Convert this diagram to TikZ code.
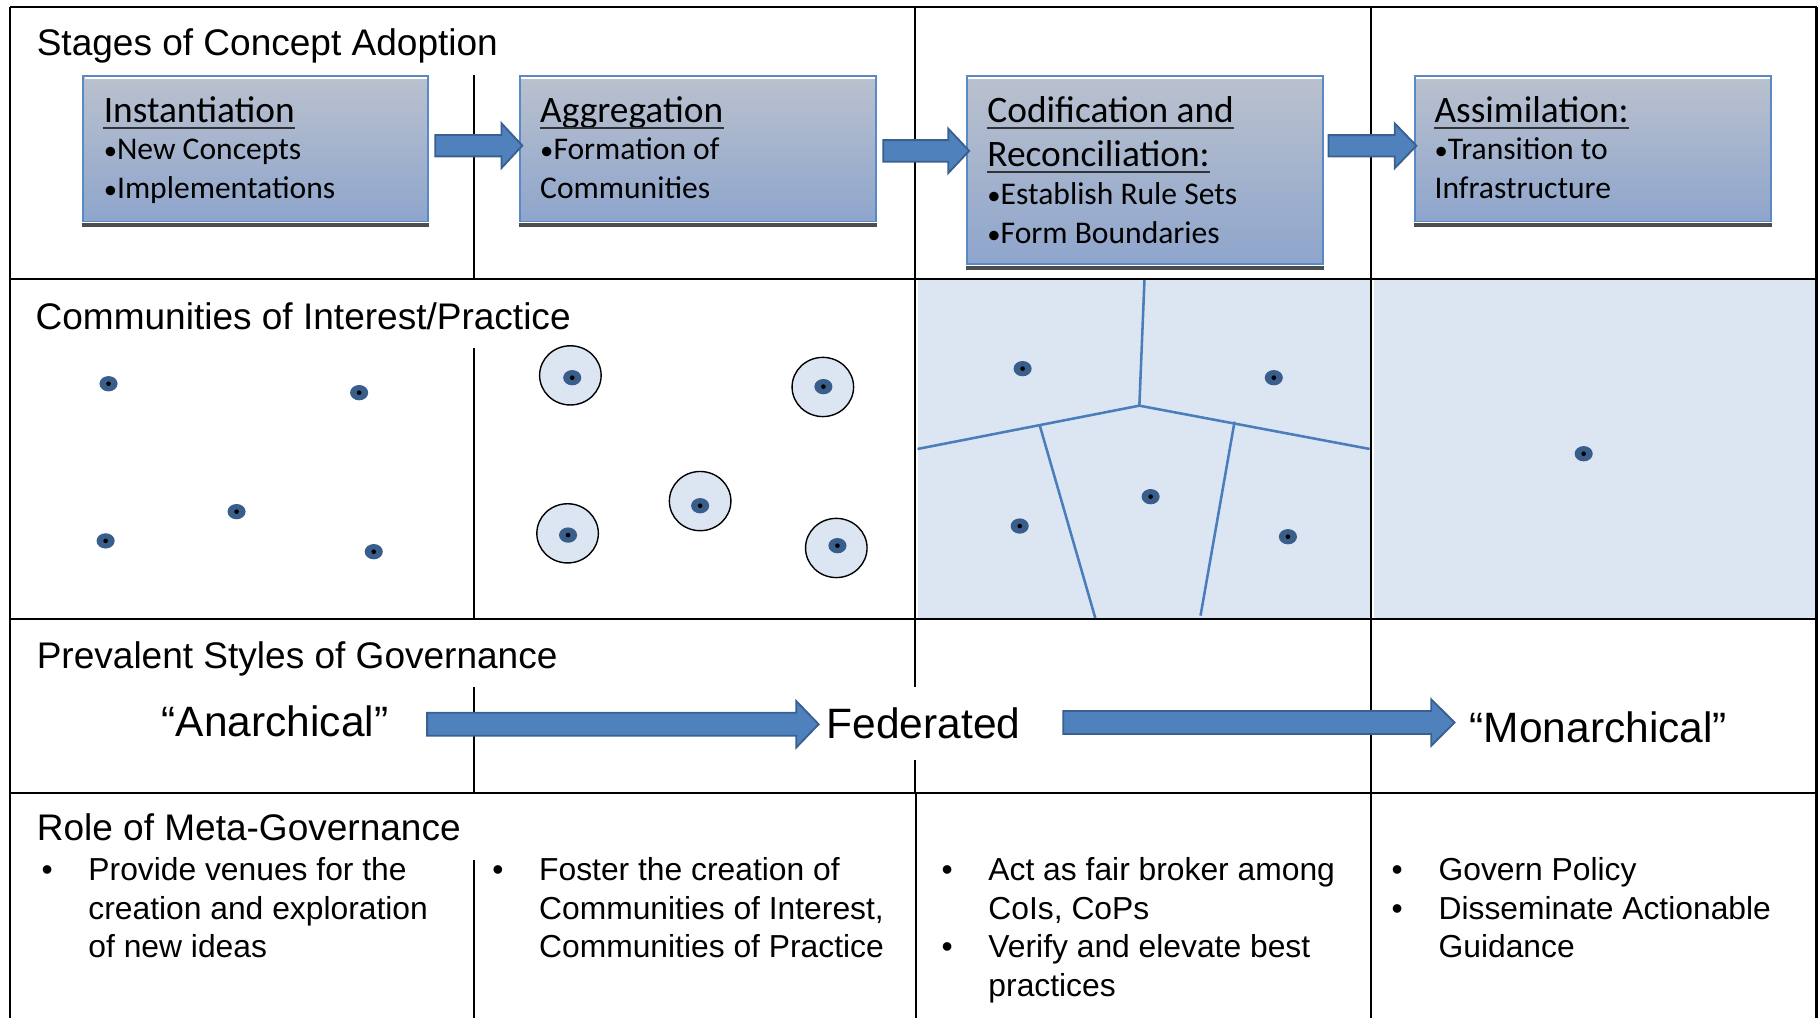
\documentclass[tikz,border=0pt]{standalone}
\usepackage{fontspec}
\setmainfont{Liberation Sans}
\newfontfamily\calfont{Carlito}
\usetikzlibrary{calc}
\definecolor{shadec}{HTML}{DCE6F2}
\definecolor{vorc}{HTML}{4A7EBB}
\definecolor{dotc}{HTML}{3A5E8C}
\definecolor{boxtop}{HTML}{BAC1CE}
\definecolor{boxbot}{HTML}{8EA5CC}
\definecolor{boxborder}{HTML}{5A8AC6}
\definecolor{shadowc}{HTML}{4D4D4D}
\definecolor{arrfill}{HTML}{4F81BD}
\definecolor{arrdraw}{HTML}{3A6090}
\definecolor{ulc}{HTML}{333333}
\newcommand\commdot[1]{\fill[dotc] (#1) ellipse [x radius=7.8, y radius=6.6]; \fill[black] (#1) circle [radius=2];}
\newcommand\blockarr[5]{%
  \filldraw[blockarrow] ($(#1)+(0,-#4)$) -- ($(#2)+(-#3,-#4)$) -- ($(#2)+(-#3,-#5)$) -- (#2)
    -- ($(#2)+(-#3,#5)$) -- ($(#2)+(-#3,#4)$) -- ($(#1)+(0,#4)$) -- cycle;}
\newcommand\boxdeco[1]{%
  \fill[shadowc] ([yshift=-0.2pt]#1.south west) rectangle ([yshift=-1.8pt]#1.south east);
  \draw[white, line width=0.9pt] ([shift={(0.9pt,-1.2pt)}]#1.north west) -- ([shift={(-0.9pt,-1.2pt)}]#1.north east);}
\newcommand\bul{{\fontsize{11.5}{12}\selectfont •}}
\begin{document}
\begin{tikzpicture}[x=0.5pt,y=-0.5pt,
  hdr/.style={anchor=base west, inner sep=0, font=\fontsize{15.95}{19}\selectfont},
  big/.style={anchor=base west, inner sep=0, font=\fontsize{18.3}{22}\selectfont},
  role/.style={anchor=base west, inner sep=0, font=\fontsize{13.7}{16.6}\selectfont},
  btitle/.style={anchor=base west, inner sep=0, font=\calfont\fontsize{16.1}{19}\selectfont},
  bline/.style={anchor=base west, inner sep=0, font=\calfont\fontsize{13.6}{16}\selectfont},
  stagebox/.style={draw=boxborder, line width=0.8pt, top color=boxtop, bottom color=boxbot,
     anchor=north west, inner sep=0, minimum height=62.5pt, minimum width=153.5pt},
  gridline/.style={line width=0.9pt, black},
  vor/.style={draw=vorc, line width=1.1pt},
  blockarrow/.style={fill=arrfill, draw=arrdraw, line width=0.8pt, line join=miter},
  ul/.style={line width=0.9pt, draw=ulc}]
\useasboundingbox (0,0) rectangle (1568,877);
\fill[white] (0,0) rectangle (1568,877);

% shaded regions
\fill[shadec] (790.5,241) rectangle (1180,532);
\fill[shadec] (1183.5,241) rectangle (1565,532);

% Voronoi lines
\coordinate (vc) at (981.6,349.5);
\coordinate (vtop) at (986,241);
\coordinate (vleft) at (790.5,386.8);
\coordinate (vright) at (1180,386.8);
\coordinate (vl1) at (895.7,366.2);
\coordinate (vl2) at (943.7,532.7);
\coordinate (vr1) at (1063.6,363.3);
\coordinate (vr2) at (1034.3,530.4);
\draw[vor] (vtop) -- (vc);
\draw[vor] (vleft) -- (vc) -- (vright);
\draw[vor] (vl1) -- (vl2);
\draw[vor] (vr1) -- (vr2);

% community circles
\foreach \p in {(491.4,323.4),(708.9,333.4),(603.2,431.7),(489,459.5),(720.5,472.1)}
  \filldraw[fill=shadec, draw=black, line width=0.6pt] \p ellipse [x radius=26.5, y radius=25.5];

% dots
\commdot{93.5,330.6}
\commdot{309.4,338.3}
\commdot{203.8,440.8}
\commdot{91,466}
\commdot{322,475.3}
\commdot{493,325.4}
\commdot{709.4,333.1}
\commdot{603.2,435.7}
\commdot{489.4,461}
\commdot{721.5,470.1}
\commdot{881,317.6}
\commdot{1097.4,325.4}
\commdot{991.3,427.9}
\commdot{878.5,453.2}
\commdot{1109.6,462.4}
\commdot{1364.4,390.9}

% grid
\draw[gridline] (9,6) -- (1565,6);
\draw[gridline] (9,6) -- (9,877);
\draw[gridline] (1565,6) -- (1565,877);
\draw[gridline] (9,240) -- (1565,240);
\draw[gridline] (9,533) -- (1565,533);
\draw[gridline] (9,683) -- (1565,683);
\draw[gridline] (408,65) -- (408,240);
\draw[gridline] (408,300) -- (408,533);
\draw[gridline] (408,592) -- (408,683);
\draw[gridline] (408,741) -- (408,877);
\draw[gridline] (788,6) -- (788,592);
\draw[gridline] (788,655) -- (788,683);
\draw[gridline] (789,683) -- (789,877);
\draw[gridline] (1181,6) -- (1181,877);

% stage boxes
\node[stagebox, minimum width=148.5pt] (b1) at (71,65) {};
\node[stagebox] (b2) at (447,65) {};
\node[stagebox, minimum height=81pt] (b3) at (832,65) {};
\node[stagebox] (b4) at (1218,65) {};
\boxdeco{b1}
\boxdeco{b2}
\boxdeco{b3}
\boxdeco{b4}

% arrows between boxes
\coordinate (a1s) at (375,125.5);
\coordinate (a1e) at (450,125.5);
\coordinate (a2s) at (761,130);
\coordinate (a2e) at (835,130);
\coordinate (a3s) at (1144.5,125.6);
\coordinate (a3e) at (1220.3,125.6);
\blockarr{a1s}{a1e}{18}{9.2}{19.3}
\blockarr{a2s}{a2e}{18}{9.3}{19.1}
\blockarr{a3s}{a3e}{18.7}{9.2}{19.3}

% box texts
\node[btitle] (t1) at (89,105.7) {Instantiation};
\node[bline] (t1a) at (89,137.8) {\bul New Concepts};
\node[bline] (t1b) at (89,170.9) {\bul Implementations};
\node[btitle] (t2) at (465,105.7) {Aggregation};
\node[bline] (t2a) at (465,137.8) {\bul Formation of};
\node[bline] (t2b) at (465,170.9) {Communities};
\node[btitle] (t3) at (850.3,105.7) {Codification and};
\node[btitle] (t3x) at (850.3,143.6) {Reconciliation:};
\node[bline] (t3a) at (850.3,176.6) {\bul Establish Rule Sets};
\node[bline] (t3b) at (850.3,209.6) {\bul Form Boundaries};
\node[btitle] (t4) at (1235.5,105.7) {Assimilation:};
\node[bline] (t4a) at (1235.5,137.8) {\bul Transition to};
\node[bline] (t4b) at (1235.5,170.9) {Infrastructure};
\foreach \t in {t1,t2,t3,t3x,t4}
  \draw[ul] ([yshift=-2.2pt]\t.base west) -- ([yshift=-2.2pt]\t.base east);

% row headers
\node[hdr] (h1) at (31.3,47.6) {Stages of Concept Adoption};
\node[hdr] (h2) at (30.3,283.7) {Communities of Interest/Practice};
\node[hdr] (h3) at (31.3,575.8) {Prevalent Styles of Governance};
\node[hdr] (h4) at (31.3,723.7) {Role of Meta-Governance};

% governance styles
\node[big] (anar) at (139,634.7) {“Anarchical”};
\node[big] (fed) at (711.9,636.5) {Federated};
\node[big] (mon) at (1265.8,639.8) {“Monarchical”};
\coordinate (gAs) at (368,624);
\coordinate (gAe) at (705.3,624);
\coordinate (gBs) at (916,622.5);
\coordinate (gBe) at (1253.2,622.5);
\blockarr{gAs}{gAe}{19.3}{9.9}{20}
\blockarr{gBs}{gBe}{20.2}{9.9}{20}

% meta-governance roles
\node[role] (r1b1) at (35.5,758.7) {•};
\node[role] (r1l1) at (75.8,758.7) {Provide venues for the};
\node[role] (r1l2) at (75.8,792) {creation and exploration};
\node[role] (r1l3) at (75.8,825.2) {of new ideas};
\node[role] (r2b1) at (423.8,758.7) {•};
\node[role] (r2l1) at (464.1,758.7) {Foster the creation of};
\node[role] (r2l2) at (464.1,792) {Communities of Interest,};
\node[role] (r2l3) at (464.1,825.2) {Communities of Practice};
\node[role] (r3b1) at (810.9,758.7) {•};
\node[role] (r3l1) at (851.2,758.7) {Act as fair broker among};
\node[role] (r3l2) at (851.2,792) {CoIs, CoPs};
\node[role] (r3b2) at (810.9,825.2) {•};
\node[role] (r3l3) at (851.2,825.2) {Verify and elevate best};
\node[role] (r3l4) at (851.2,858.3) {practices};
\node[role] (r4b1) at (1198.6,758.7) {•};
\node[role] (r4l1) at (1239,758.7) {Govern Policy};
\node[role] (r4b2) at (1198.6,792) {•};
\node[role] (r4l2) at (1239,792) {Disseminate Actionable};
\node[role] (r4l3) at (1239,825.2) {Guidance};
\end{tikzpicture}
\end{document}
